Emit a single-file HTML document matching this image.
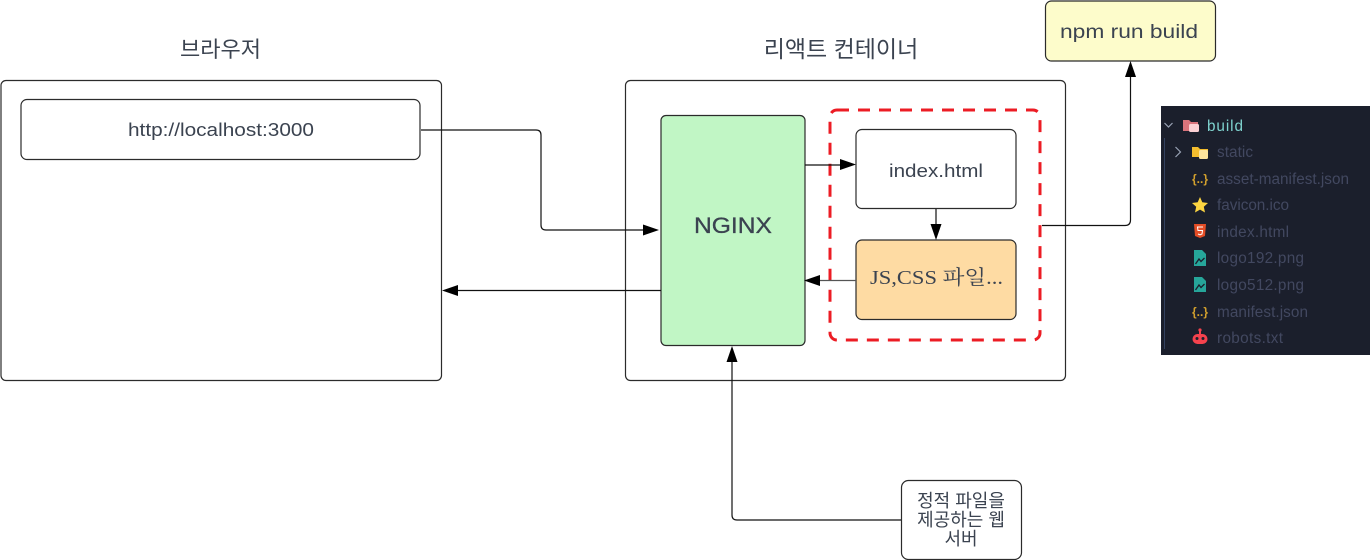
<!DOCTYPE html>
<html><head><meta charset="utf-8"><style>
html,body{margin:0;padding:0;background:#fff;width:1370px;height:560px;overflow:hidden}
svg{display:block}
text{font-family:"Liberation Sans","Noto Sans CJK KR",sans-serif;fill:#3b4350}
.b{stroke:#2b2b2b;stroke-width:1.2;fill:#fff}
.l{stroke:#111;stroke-width:1.2;fill:none}
.f{font-size:15.300px;fill:#424860}
</style></head><body>
<svg width="1370" height="560" viewBox="0 0 1370 560" xmlns="http://www.w3.org/2000/svg">
<rect x="1" y="80.500" width="440.500" height="300" rx="5" class="b"/>
<rect x="21" y="99.500" width="399" height="60" rx="6" class="b"/>
<rect x="625.500" y="80.500" width="440" height="300" rx="5" class="b"/>
<rect x="661" y="115.500" width="144" height="230" rx="5" class="b" style="fill:#c1f6c5"/>
<rect x="830" y="110" width="210" height="230" rx="7" fill="none" stroke="#ec1c24" stroke-width="3" stroke-dasharray="12 9"/>
<rect x="856" y="129.500" width="160" height="79" rx="6" class="b"/>
<rect x="856" y="240" width="160" height="79.500" rx="6" class="b" style="fill:#fedba3"/>
<rect x="1045.500" y="1" width="170" height="60" rx="6" class="b" style="fill:#fdfccb"/>
<rect x="901.500" y="480.500" width="120" height="79" rx="7" class="b"/>

<path class="l" d="M421 130H536Q541 130 541 135V225Q541 230 546 230H645"/>
<path d="M659 230L643 224.500V235.500Z" fill="#000"/>
<path class="l" d="M661 290.500H456"/>
<path d="M442 290.500L458 285V296Z" fill="#000"/>
<path class="l" d="M805 165H843"/>
<path d="M856 164.500L840 159V170Z" fill="#000"/>
<path class="l" d="M936 209V226"/>
<path d="M936 240L930.500 224H941.500Z" fill="#000"/>
<path class="l" d="M856 280.500H818" style="stroke:#555"/>
<path d="M804 280.500L820 275V286Z" fill="#000"/>
<path class="l" d="M1042 225.500H1125Q1130.500 225.500 1130.500 220V74"/>
<path d="M1130.500 61L1125 77H1136Z" fill="#000"/>
<path class="l" d="M901 520H737Q732 520 732 515V358"/>
<path d="M732 346L726.500 362H737.500Z" fill="#000"/>

<text x="220.500" y="57" font-size="22" text-anchor="middle">브라우저</text>
<text x="841" y="57" font-size="23" text-anchor="middle">리액트 컨테이너</text>
<text x="128" y="136" font-size="18" textLength="186" lengthAdjust="spacingAndGlyphs">http://localhost:3000</text>
<text x="694" y="233" font-size="22" textLength="78" lengthAdjust="spacingAndGlyphs" stroke="#3b4350" stroke-width="0.300">NGINX</text>
<text x="889" y="177" font-size="18" textLength="94" lengthAdjust="spacingAndGlyphs">index.html</text>
<text x="870" y="284" font-size="20" style='font-family:"Liberation Serif","Noto Serif CJK SC",serif' textLength="133" lengthAdjust="spacingAndGlyphs">JS,CSS 파일...</text>
<text x="1060" y="38" font-size="19" textLength="138" lengthAdjust="spacingAndGlyphs">npm run build</text>
<text x="961" y="507" font-size="18" text-anchor="middle">정적 파일을</text>
<text x="961" y="526" font-size="18" text-anchor="middle">제공하는 웹</text>
<text x="961" y="545" font-size="18" text-anchor="middle">서버</text>

<rect x="1161" y="106" width="209" height="249" fill="#1b1f2c"/>
<path d="M1164.500 123L1168.500 127L1172.500 123" fill="none" stroke="#9aa3b5" stroke-width="1.200"/>
<path d="M1164.500 138V349" stroke="#33415f" stroke-width="1"/>
<path d="M1183 120H1189L1191 122H1198V131H1183Z" fill="#d9747c"/>
<rect x="1189" y="124" width="10" height="8" rx="1.500" fill="#fbd0d4"/>
<text x="1207" y="131" class="f" style="fill:#7fd3cf" textLength="36">build</text>
<path d="M1175.500 147L1180.500 152L1175.500 157" fill="none" stroke="#9aa3b5" stroke-width="1.200"/>
<path d="M1192 147H1198L1200 149H1208V157H1192Z" fill="#f4bd2e"/>
<rect x="1199" y="150" width="9" height="9" rx="1.500" fill="#fde49c"/>
<text x="1217" y="157" class="f" textLength="36">static</text>
<text x="1200" y="183" font-size="12" text-anchor="middle" style="fill:#d3a12d;font-weight:bold">{..}</text>
<text x="1217" y="184" class="f" textLength="132">asset-manifest.json</text>
<path d="M1200 197L1202.300 202.300L1208 203L1203.800 206.800L1205 212.500L1200 209.600L1195 212.500L1196.200 206.800L1192 203L1197.700 202.300Z" fill="#fdd541"/>
<text x="1217" y="210" class="f" textLength="72">favicon.ico</text>
<path d="M1194 224H1206L1205 236L1200 238L1195 236Z" fill="#e44d26"/>
<path d="M1203 227H1197.500L1198 230.500H1202.500L1202 234L1200 234.800L1198 234" fill="none" stroke="#fff" stroke-width="1"/>
<text x="1217" y="237" class="f" textLength="72">index.html</text>
<path d="M1194 250H1202L1206 254V266H1194Z" fill="#26a69a"/>
<path d="M1195.500 264L1199 259L1201 261.500L1204.500 258" fill="none" stroke="#1b1f2c" stroke-width="1.300"/>
<text x="1217" y="263" class="f" textLength="87">logo192.png</text>
<path d="M1194 277H1202L1206 281V292H1194Z" fill="#26a69a"/>
<path d="M1195.500 290L1199 285L1201 287.500L1204.500 284" fill="none" stroke="#1b1f2c" stroke-width="1.300"/>
<text x="1217" y="290" class="f" textLength="87">logo512.png</text>
<text x="1200" y="316" font-size="12" text-anchor="middle" style="fill:#d3a12d;font-weight:bold">{..}</text>
<text x="1217" y="317" class="f" textLength="91">manifest.json</text>
<rect x="1192.500" y="334" width="15" height="10" rx="5" fill="#f5424d"/>
<rect x="1199" y="330" width="2" height="5" fill="#f5424d"/>
<circle cx="1200" cy="330" r="1.600" fill="#f5424d"/>
<circle cx="1197" cy="338.500" r="1.500" fill="#1b1f2c"/>
<circle cx="1203" cy="338.500" r="1.500" fill="#1b1f2c"/>
<text x="1217" y="343" class="f" textLength="66">robots.txt</text>
</svg>
</body></html>
